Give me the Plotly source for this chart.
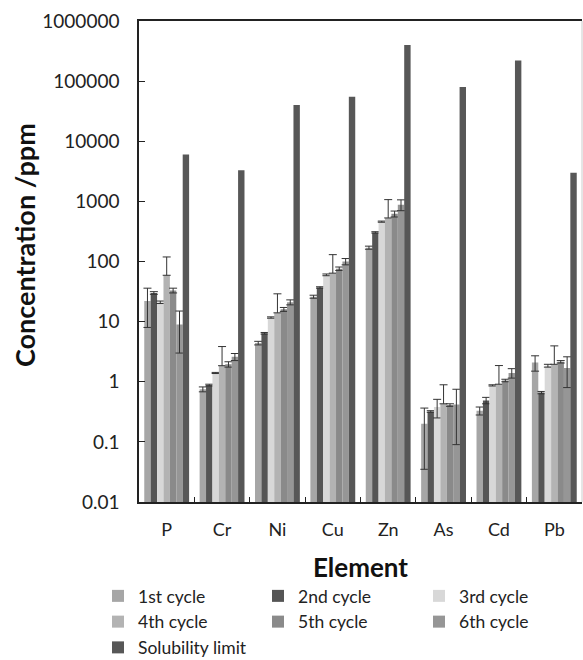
import plotly.graph_objects as go

# Element categories along the x axis
elements = ["P", "Cr", "Ni", "Cu", "Zn", "As", "Cd", "Pb"]

# Leachate concentrations (ppm) per extraction cycle, with standard deviations
cycle1 = [22, 0.75, 4.4, 26, 170, 0.20, 0.33, 2.1]
cycle1_err = [14, 0.07, 0.3, 1.5, 10, 0.165, 0.05, 0.6]
cycle2 = [30, 0.88, 6.4, 37, 305, 0.32, 0.49, 0.66]
cycle2_err = [1.5, 0.03, 0.2, 1, 8, 0.01, 0.06, 0.03]
cycle3 = [21, 1.4, 11.7, 60, 460, 0.38, 0.87, 1.85]
cycle3_err = [1, 0.03, 0.3, 2, 10, 0.13, 0.02, 0.1]
cycle4 = [59, 1.85, 14, 64, 530, 0.43, 0.91, 1.95]
cycle4_err = [60, 2.0, 15, 66, 540, 0.46, 0.95, 2.0]
cycle5 = [33, 1.95, 16, 76, 620, 0.41, 1.05, 2.15]
cycle5_err = [3, 0.2, 1.2, 5, 70, 0.02, 0.05, 0.1]
cycle6 = [9, 2.6, 21, 100, 880, 0.42, 1.4, 1.7]
cycle6_err = [6, 0.35, 2, 12, 180, 0.33, 0.25, 0.9]
solubility = [6000, 3300, 40000, 55000, 400000, 80000, 220000, 3000]

series_names = ["1st cycle", "2nd cycle", "3rd cycle", "4th cycle",
                "5th cycle", "6th cycle", "Solubility limit"]
series_values = [cycle1, cycle2, cycle3, cycle4, cycle5, cycle6, solubility]
series_errors = [cycle1_err, cycle2_err, cycle3_err, cycle4_err,
                 cycle5_err, cycle6_err, None]
series_colors = ["#a6a6a6", "#555555", "#d8d8d8", "#b3b3b3",
                 "#8a8a8a", "#969696", "#575757"]
# legend column for each series (three columns, filled row by row)
series_legend = ["legend", "legend2", "legend3", "legend",
                 "legend2", "legend3", "legend"]

# Y tick labels (log decades)
y_tickvals = [0.01, 0.1, 1, 10, 100, 1000, 10000, 100000, 1000000]
y_ticktext = ["0.01", "0.1", "1", "10", "100", "1000", "10000", "100000", "1000000"]

FONT = "Lato"

fig = go.Figure()
for name, vals, errs, col, leg in zip(series_names, series_values, series_errors,
                                      series_colors, series_legend):
    kw = {}
    if errs is not None:
        # on a log axis a lower whisker reaching zero or below is not drawn
        minus = [e if e < v else 0 for v, e in zip(vals, errs)]
        kw["error_y"] = dict(type="data", symmetric=False, array=errs, arrayminus=minus,
                             visible=True, color="#333333", thickness=1, width=4)
    fig.add_trace(go.Bar(x=elements, y=vals, name=name, legend=leg,
                         marker=dict(color=col, line=dict(width=0)), **kw))


def legend_column(left_px):
    return dict(orientation="v", xref="container", x=left_px / 583, xanchor="left",
                yref="container", y=1 - 578 / 660, yanchor="top",
                font=dict(family=FONT, size=17.5, color="#222222"),
                itemwidth=30, tracegroupgap=0, bgcolor="rgba(0,0,0,0)")


fig.update_layout(
    width=583, height=660,
    margin=dict(l=139, r=1, t=21, b=158, autoexpand=False),
    paper_bgcolor="white", plot_bgcolor="white",
    barmode="group", bargap=0.19, bargroupgap=0,
    font=dict(family=FONT, color="#000000"),
    legend=legend_column(98),
    legend2=legend_column(258),
    legend3=legend_column(419),
    showlegend=True,
)

fig.update_xaxes(
    automargin=False,
    showline=True, linecolor="#222222", linewidth=1.5, mirror=True,
    ticks="inside", tickson="boundaries", ticklen=5, tickcolor="#222222",
    tickfont=dict(family=FONT, size=18, color="#222222"),
    ticklabelstandoff=11,
    title=dict(text="<b>Element</b>", font=dict(family=FONT, size=26, color="#111111"),
               standoff=19),
    showgrid=False,
)

fig.update_yaxes(
    automargin=False,
    type="log", range=[-2, 6],
    tickvals=y_tickvals, ticktext=y_ticktext,
    showline=True, linecolor="#222222", linewidth=1.5,
    ticks="inside", ticklen=6, tickcolor="#222222",
    tickfont=dict(family=FONT, size=19, color="#222222"),
    ticklabelstandoff=14,
    showgrid=False, zeroline=False,
)

# vertical axis title, set slightly above the plot-area centre
fig.add_annotation(text="<b>Concentration /ppm</b>", textangle=-90,
                   xref="paper", yref="paper", x=(24 - 139) / 443, y=(502 - 245) / 481,
                   xanchor="center", yanchor="middle", showarrow=False,
                   font=dict(family=FONT, size=27, color="#111111"))

# light frame edge on the right side of the plot area
fig.add_shape(type="line", xref="paper", yref="paper", x0=1, x1=1, y0=0, y1=1,
              line=dict(color="#cccccc", width=1))

fig.write_html("out.html")
